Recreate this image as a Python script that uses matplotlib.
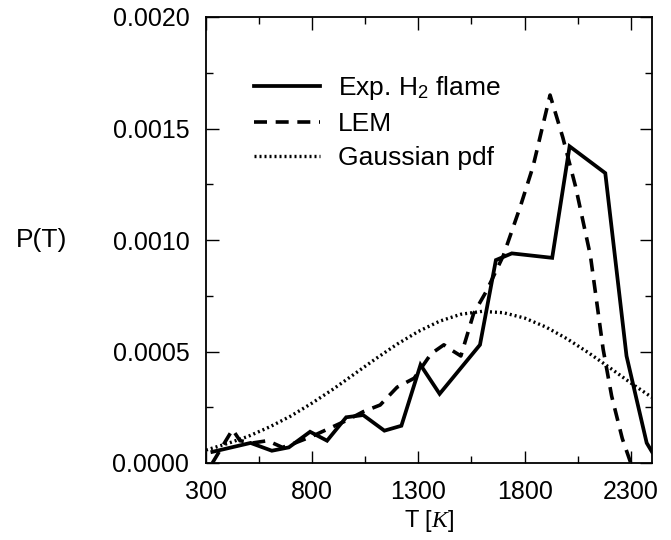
import matplotlib
matplotlib.use("Agg")
import matplotlib.pyplot as plt
from matplotlib.ticker import MultipleLocator, FixedLocator, FormatStrFormatter

plt.rcParams['font.family'] = ['Liberation Sans', 'DejaVu Sans']
plt.rcParams['mathtext.fontset'] = 'custom'
plt.rcParams['mathtext.rm'] = 'Liberation Sans'
plt.rcParams['mathtext.it'] = 'Liberation Serif:italic'

# Experimental H2 flame
exp_T = [330, 510, 610, 690, 790, 870, 960, 1040, 1140, 1220, 1310, 1400,
         1590, 1665, 1740, 1930, 2012, 2180, 2280, 2375, 2400]
exp_P = [0.00005, 0.00009, 0.000055, 0.00007, 0.00014, 0.0001, 0.000205,
         0.000215, 0.000145, 0.000167, 0.00044, 0.00031, 0.00053, 0.00091,
         0.00094, 0.00092, 0.00142, 0.0013, 0.00048, 0.00009, 0.00005]

# LEM
lem_T = [330, 425, 460, 520, 590, 660, 720, 800, 880, 960, 1040, 1120, 1200,
         1280, 1360, 1420, 1450, 1500, 1560, 1620, 1700, 1780, 1840, 1920,
         1980, 2040, 2110, 2170, 2210, 2260, 2300]
lem_P = [0.0, 0.00015, 0.0001, 0.00009, 0.0001, 0.00007, 0.00009, 0.00012,
         0.000155, 0.00019, 0.00023, 0.00026, 0.00034, 0.00038, 0.00049,
         0.00053, 0.00051, 0.00048, 0.00067, 0.00077, 0.00093, 0.00115,
         0.00133, 0.00165, 0.00146, 0.00124, 0.00093, 0.00051, 0.0003,
         0.00011, 0.0]

# Gaussian pdf
gau_T = [300, 400, 500, 600, 700, 800, 900, 1000, 1100, 1200, 1300, 1400,
         1500, 1600, 1700, 1800, 1900, 2000, 2100, 2200, 2300, 2400]
gau_P = [0.000058, 0.000087, 0.00012, 0.000162, 0.000211, 0.000269, 0.000332,
         0.0004, 0.000468, 0.000533, 0.00059, 0.000636, 0.000667, 0.00068,
         0.000674, 0.00065, 0.00061, 0.000557, 0.000495, 0.000428, 0.000359,
         0.000294]

labels = ["Exp. H$_2$ flame", "LEM", "Gaussian pdf"]
x_major = [300, 800, 1300, 1800, 2300]
x_minor = [550, 1050, 1550, 2050]

fig = plt.figure(figsize=(6.71, 5.40), dpi=100)
ax = fig.add_axes([206/671, 1-463/540, (652-206)/671, (463-17)/540])

ax.plot(exp_T, exp_P, color='black', lw=2.7, solid_joinstyle='miter', label=labels[0])
ax.plot(lem_T, lem_P, color='black', lw=2.6, linestyle=(0, (3.6, 2.4)), label=labels[1])
ax.plot(gau_T, gau_P, color='black', lw=2.4, linestyle=(0, (0.6, 0.9)), label=labels[2])

ax.set_xlim(300, 2400)
ax.set_ylim(0, 0.002)
ax.xaxis.set_major_locator(FixedLocator(x_major))
ax.xaxis.set_minor_locator(FixedLocator(x_minor))
ax.yaxis.set_major_locator(MultipleLocator(0.0005))
ax.yaxis.set_minor_locator(MultipleLocator(0.00025))
ax.yaxis.set_major_formatter(FormatStrFormatter('%.4f'))

ax.tick_params(which='both', direction='in', top=True, right=True, width=1.0, colors='black')
ax.tick_params(which='major', length=9, labelsize=18, pad=12)
ax.tick_params(which='minor', length=5)
for s in ax.spines.values():
    s.set_linewidth(1.3)

ax.set_xlabel("T $\\mathit{[K]}$", fontsize=17, labelpad=3)
fig.text(42/671, 1-240/540, "P(T)", fontsize=19, ha='center', va='center')

ax.legend(frameon=False, loc='upper left', bbox_to_anchor=(0.085, 0.895),
          fontsize=19, handlelength=2.5, handletextpad=0.65, labelspacing=0.38,
          borderaxespad=0)

fig.savefig("out.png", dpi=100)
